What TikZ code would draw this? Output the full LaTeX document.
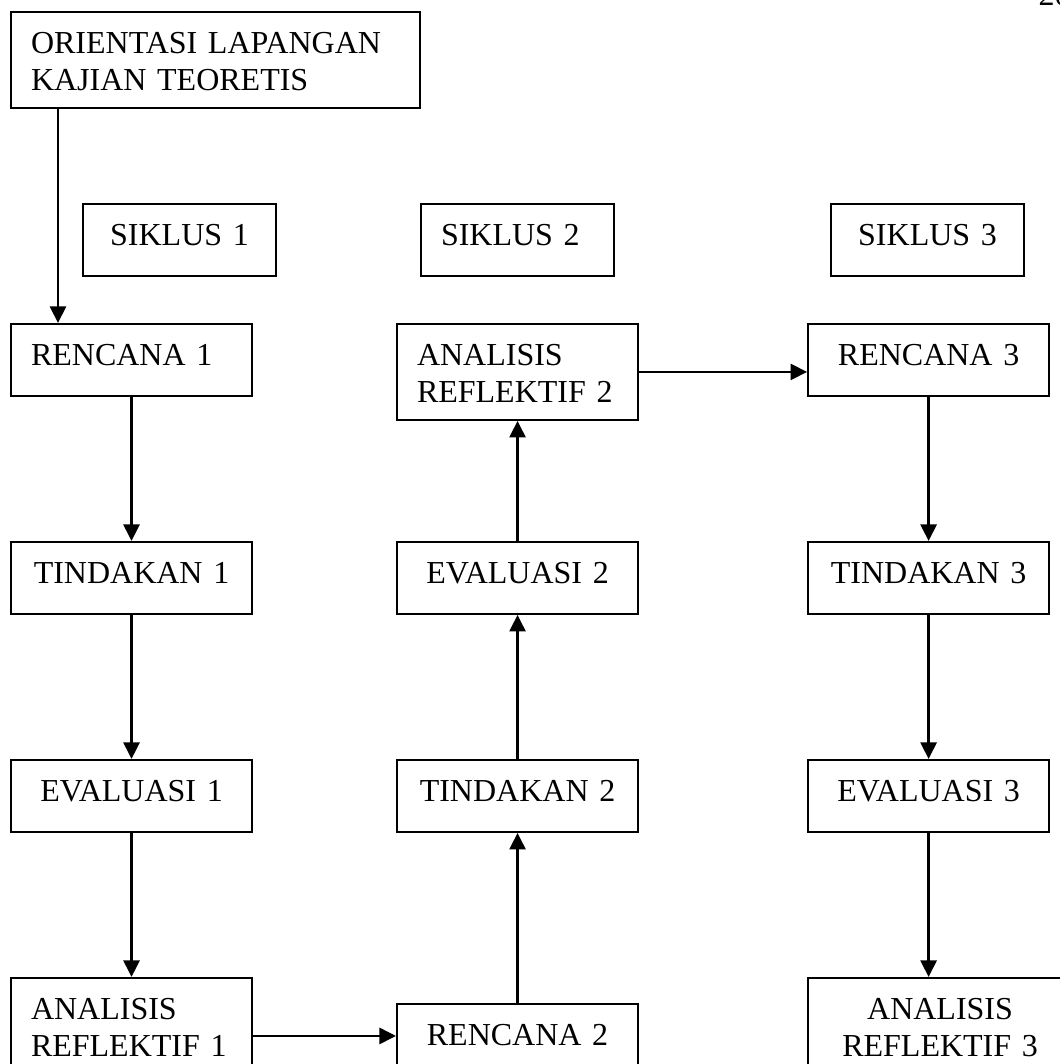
\documentclass[tikz,border=0pt]{standalone}
\usepackage{fontspec}
\setmainfont{Liberation Serif}
\usetikzlibrary{arrows.meta, positioning}

\begin{document}
\begin{tikzpicture}[
        font=\fontsize{12}{13.9}\selectfont,
        node distance=54pt,
        box/.style={rectangle, draw, line width=0.75pt, inner xsep=7.5pt, inner ysep=0pt, text width=75.4pt, align=center, text height=15.4pt, text depth=11.6pt},
        lbox/.style={box, align=left},
        tall/.style={text depth=20.6pt},
        sbox/.style={box, text width=57.4pt},
        arr/.style={-{Triangle[length=6.2pt, width=6pt]}, line width=1.05pt},
    ]
    \path[use as bounding box] (0,0) rectangle (397.5pt,-399pt);
    \clip (0,0) rectangle (397.5pt,-399pt);

    \node[anchor=base west, inner sep=0pt] (hal) at (389.25pt,-1.9pt) {20};

    \node[lbox, tall, text width=138.4pt, anchor=north west] (orient) at (3.75pt,-4.1pt) {ORIENTASI LAPANGAN\\ KAJIAN TEORETIS};

    % judul siklus
    \node[sbox, anchor=north west] (sik1) at (30.75pt,-76.1pt) {SIKLUS 1};
    \node[sbox, align=left, right=53.6pt of sik1] (sik2) {SIKLUS 2};
    \node[sbox, right=80.6pt of sik2] (sik3) {SIKLUS 3};

    % siklus 1
    \node[lbox, anchor=north west] (ren1) at (3.75pt,-121.1pt) {RENCANA 1};
    \node[box, below=of ren1] (tin1) {TINDAKAN 1};
    \node[box, below=of tin1] (eva1) {EVALUASI 1};
    \node[lbox, tall, below=of eva1] (ana1) {ANALISIS\\ REFLEKTIF 1};

    % siklus 2
    \node[lbox, tall, right=53.6pt of ren1.north east, anchor=north west] (ana2) {ANALISIS\\ REFLEKTIF 2};
    \node[box, below=45pt of ana2] (eva2) {EVALUASI 2};
    \node[box, below=of eva2] (tin2) {TINDAKAN 2};
    \node[box, below=63.75pt of tin2] (ren2) {RENCANA 2};

    % siklus 3
    \node[box, right=63pt of ana2.north east, anchor=north west] (ren3) {RENCANA 3};
    \node[box, below=of ren3] (tin3) {TINDAKAN 3};
    \node[box, below=of tin3] (eva3) {EVALUASI 3};
    \node[box, tall, text width=84pt, below=of eva3.south west, anchor=north west] (ana3) {ANALISIS\\ REFLEKTIF 3};

    \draw[arr] ([xshift=18pt]orient.south west) -- ([xshift=18pt]ren1.north west);
    \draw[arr] (ren1) -- (tin1);
    \draw[arr] (tin1) -- (eva1);
    \draw[arr] (eva1) -- (ana1);
    \draw[arr] ([yshift=1.5pt]ren2.west -| ana1.east) -- ([yshift=1.5pt]ren2.west);
    \draw[arr] (ren2) -- (tin2);
    \draw[arr] (tin2) -- (eva2);
    \draw[arr] (eva2) -- (ana2);
    \draw[arr] (ana2.east) -- (ana2.east -| ren3.west);
    \draw[arr] (ren3) -- (tin3);
    \draw[arr] (tin3) -- (eva3);
    \draw[arr] (eva3.south) -- (eva3.south |- ana3.north);
\end{tikzpicture}
\end{document}
